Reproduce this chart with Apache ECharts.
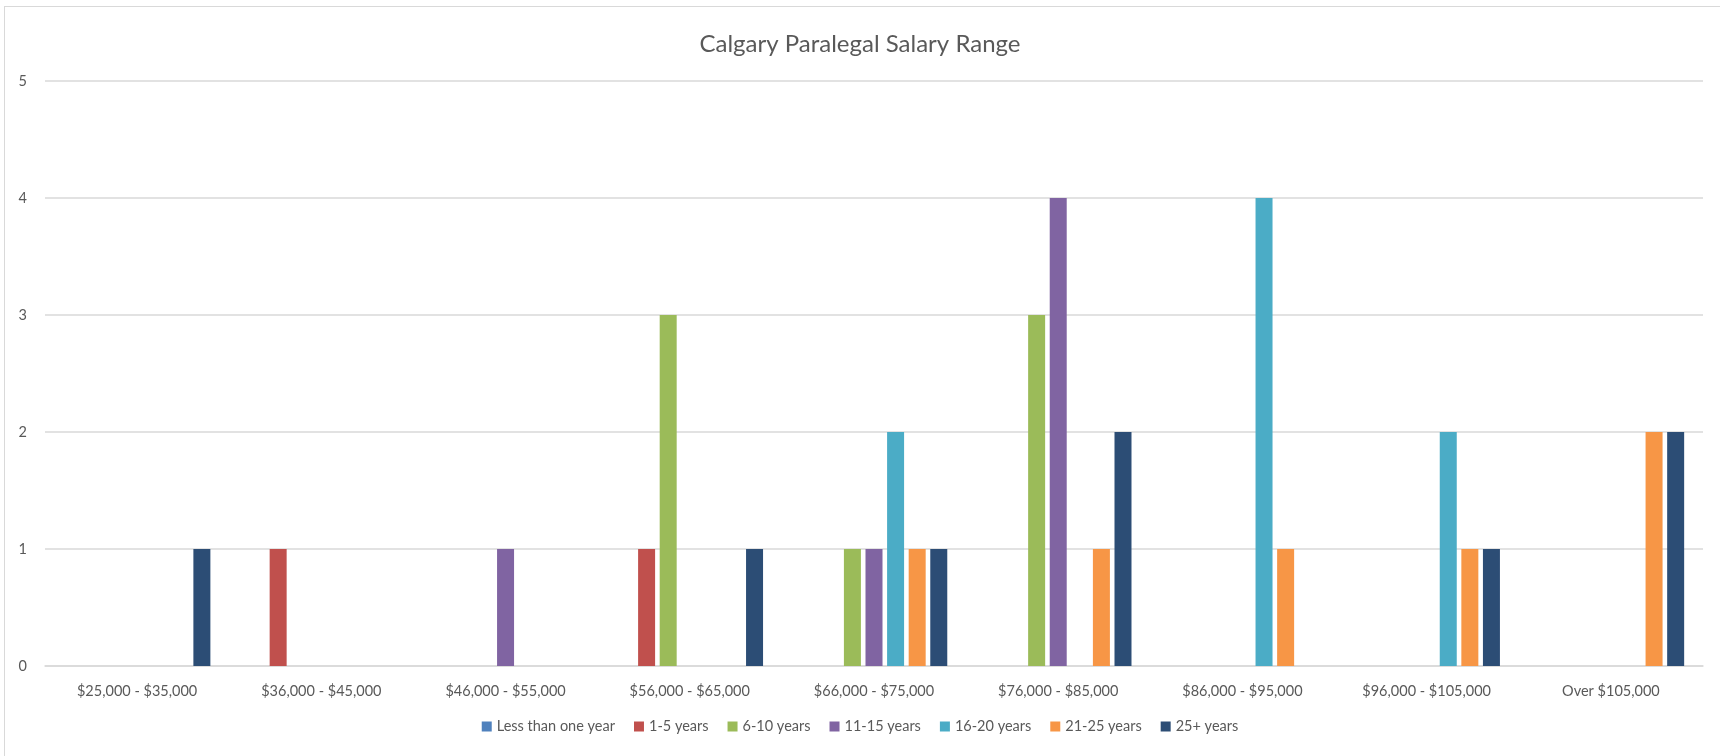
<!DOCTYPE html>
<html>
<head>
<meta charset="utf-8">
<script src="https://cdn.jsdelivr.net/npm/echarts@6/dist/echarts.min.js"></script>
<style>
html, body { margin: 0; padding: 0; background: #fff; }
#frame { position: absolute; left: 4px; top: 6px; width: 1730px; height: 760px; border: 1px solid #d9d9d9; }
#chart { position: absolute; left: 0; top: 0; width: 1720px; height: 756px; }
</style>
</head>
<body>
<div id="frame"></div>
<div id="chart"></div>
<script>
// salary bands
var categories = ['$25,000 - $35,000', '$36,000 - $45,000', '$46,000 - $55,000', '$56,000 - $65,000',
    '$66,000 - $75,000', '$76,000 - $85,000', '$86,000 - $95,000', '$96,000 - $105,000', 'Over $105,000'];

// counts per experience group
var lessThanOne = [0, 0, 0, 0, 0, 0, 0, 0, 0];
var years1to5   = [0, 1, 0, 1, 0, 0, 0, 0, 0];
var years6to10  = [0, 0, 0, 3, 1, 3, 0, 0, 0];
var years11to15 = [0, 0, 1, 0, 1, 4, 0, 0, 0];
var years16to20 = [0, 0, 0, 0, 2, 0, 4, 2, 0];
var years21to25 = [0, 0, 0, 0, 1, 1, 1, 1, 2];
var years25plus = [1, 0, 0, 1, 1, 2, 0, 1, 2];

var seriesNames = ['Less than one year', '1-5 years', '6-10 years', '11-15 years', '16-20 years', '21-25 years', '25+ years'];
var seriesData = [lessThanOne, years1to5, years6to10, years11to15, years16to20, years21to25, years25plus];
var colors = ['#4f81bd', '#c0504d', '#9bbb59', '#8064a2', '#4bacc6', '#f79646', '#2c4d75'];

var font = 'Lato, "Open Sans", sans-serif';
var chart = echarts.init(document.getElementById('chart'));

var series = seriesNames.map(function (name, i) {
    return {
        name: name,
        type: 'bar',
        data: seriesData[i],
        barWidth: 17,
        barGap: '27%',
        itemStyle: { color: colors[i] }
    };
});

chart.setOption({
    animation: false,
    color: colors,
    title: {
        text: 'Calgary Paralegal Salary Range',
        left: 'center',
        top: 27,
        textStyle: { fontFamily: font, fontSize: 24, fontWeight: 'normal', color: '#595959' }
    },
    grid: { left: 45, right: 17, top: 81, bottom: 90 },
    legend: {
        bottom: 17,
        left: 'center',
        itemWidth: 10,
        itemHeight: 10,
        itemGap: 19,
        icon: 'rect',
        textStyle: { fontFamily: font, fontSize: 14.5, color: '#595959' },
        data: seriesNames
    },
    xAxis: {
        type: 'category',
        data: categories,
        axisLine: { lineStyle: { color: '#d9d9d9', width: 1.5 } },
        axisTick: { show: false },
        axisLabel: { fontFamily: font, fontSize: 14.5, color: '#595959', margin: 18, interval: 0 }
    },
    yAxis: {
        type: 'value',
        min: 0,
        max: 5,
        interval: 1,
        axisLabel: { fontFamily: font, fontSize: 14.5, color: '#595959', margin: 18 },
        splitLine: { lineStyle: { color: '#d9d9d9', width: 1.5 } }
    },
    series: series
});
</script>
</body>
</html>
